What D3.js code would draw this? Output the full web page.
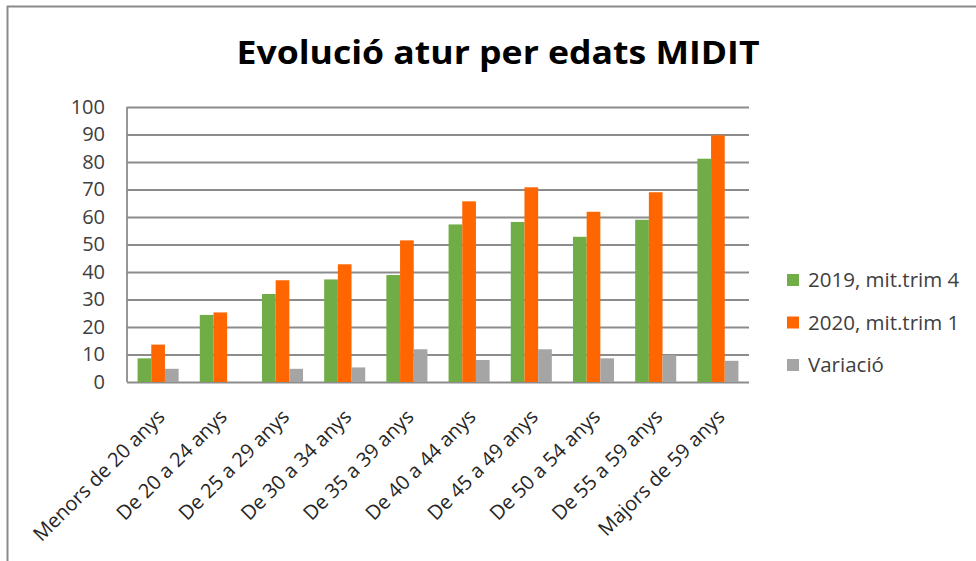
<!DOCTYPE html>
<html>
<head>
<meta charset="utf-8">
<script src="https://cdn.jsdelivr.net/npm/d3@7"></script>
<style>
  body { margin: 0; background: #fff; }
  text { font-family: "Open Sans", sans-serif; }
</style>
</head>
<body>
<svg id="s1" width="976" height="561"></svg>
<script>
/*************************Data********************* */
const categories = [
  "Menors de 20 anys", "De 20 a 24 anys", "De 25 a 29 anys", "De 30 a 34 anys", "De 35 a 39 anys",
  "De 40 a 44 anys", "De 45 a 49 anys", "De 50 a 54 anys", "De 55 a 59 anys", "Majors de 59 anys"
];
const seriesNames = ["2019, mit.trim 4", "2020, mit.trim 1", "Variació"];
const values2019 = [8.6, 24.4, 32, 37.3, 38.9, 57.3, 58.2, 52.8, 59, 81.2];
const values2020 = [13.6, 25.3, 37, 42.8, 51.5, 65.7, 70.8, 61.9, 69, 89.7];
const variacio = [4.8, 0, 4.8, 5.3, 11.9, 8, 11.9, 8.6, 9.8, 7.7];
const yTicks = [0, 10, 20, 30, 40, 50, 60, 70, 80, 90, 100];
const colors = ["#70AD47", "#FF6600", "#A5A5A5"];

/*************************Scales********************* */
const width = 976;
const height = 561;
const plot = { left: 127, right: 749, top: 107, bottom: 382 };
const font = "'Open Sans', sans-serif";
const svg = d3.select("svg#s1");

const scaleX = d3.scaleBand().domain(categories).range([plot.left, plot.right]).paddingInner(0.34).paddingOuter(0.17);
const scaleSub = d3.scaleBand().domain(seriesNames).range([0, scaleX.bandwidth()]);
const scaleY = d3.scaleLinear().domain([0, 100]).range([plot.bottom, plot.top]);
const colorScale = d3.scaleOrdinal().domain(seriesNames).range(colors);

// frame (only top and left edges are visible in the crop)
svg.append("line").attr("x1", 7).attr("y1", 6.5).attr("x2", width).attr("y2", 6.5).attr("stroke", "#8a8a8a").attr("stroke-width", 2);
svg.append("line").attr("x1", 7.5).attr("y1", 6).attr("x2", 7.5).attr("y2", height).attr("stroke", "#8a8a8a").attr("stroke-width", 2);

// title
svg.append("text").text("Evolució atur per edats MIDIT")
  .attr("x", 498).attr("y", 64).attr("text-anchor", "middle")
  .attr("font-size", 32).attr("font-weight", "bold").attr("fill", "#000")
  .attr("textLength", 523).attr("lengthAdjust", "spacingAndGlyphs");

/*************************Axes********************* */
const yAxis = d3.axisLeft(scaleY).tickValues(yTicks).tickSize(-(plot.right - plot.left)).tickPadding(22);
const gy = svg.append("g").attr("class", "y-axis").attr("transform", `translate(${plot.left},0)`).call(yAxis);
gy.select(".domain").remove();
gy.selectAll(".tick line").attr("stroke", "#8c8c8c").attr("stroke-width", 1.8);
gy.selectAll(".tick text").attr("font-size", 20).attr("fill", "#404040").attr("font-family", font);

// y axis line
svg.append("line").attr("x1", plot.left).attr("x2", plot.left).attr("y1", plot.top).attr("y2", plot.bottom)
  .attr("stroke", "#8c8c8c").attr("stroke-width", 1.8);

const xAxis = d3.axisBottom(scaleX).tickSize(0).tickPadding(0);
const gx = svg.append("g").attr("class", "x-axis").attr("transform", `translate(0,${plot.bottom})`).call(xAxis);
gx.select(".domain").remove();
gx.selectAll(".tick text")
  .attr("font-size", 20).attr("fill", "#262626")
  .attr("font-family", font)
  .attr("text-anchor", "end").attr("dy", null).attr("y", 0)
  .attr("transform", "translate(8,36) rotate(-45)");

/*************************Bars********************* */
const rows = categories.map((c, i) => ({ cat: c, vals: [values2019[i], values2020[i], variacio[i]] }));
svg.append("g").attr("class", "draw")
  .selectAll("g")
  .data(rows)
  .join("g")
  .attr("transform", (d) => `translate(${scaleX(d.cat)},0)`)
  .selectAll("rect")
  .data((d) => d.vals.map((v, j) => ({ name: seriesNames[j], v: v })))
  .join("rect")
  .attr("x", (d) => scaleSub(d.name))
  .attr("width", scaleSub.bandwidth())
  .attr("y", (d) => scaleY(d.v))
  .attr("height", (d) => scaleY(0) - scaleY(d.v))
  .attr("fill", (d) => colorScale(d.name));

/*************************Legend********************* */
const legend = svg.append("g").attr("class", "legend").attr("transform", "translate(787,0)")
  .selectAll("g").data(seriesNames).join("g")
  .attr("transform", (d, i) => `translate(0,${280 + i * 42.5})`);
legend.append("rect").attr("x", 0).attr("y", -6).attr("width", 12).attr("height", 12).attr("fill", (d) => colorScale(d));
legend.append("text").attr("x", 21).attr("y", 7).attr("font-size", 20.5).attr("fill", "#404040").text((d) => d);
</script>
</body>
</html>
